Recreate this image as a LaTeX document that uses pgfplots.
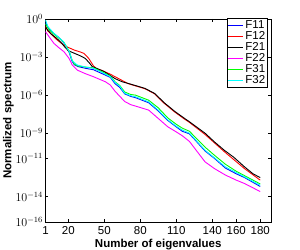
\documentclass[border=0pt]{standalone}
\usepackage{pgfplots}
\pgfplotsset{compat=1.18}
\usepackage{fontspec}
\setmainfont{Liberation Sans}
\usetikzlibrary{calc}
\definecolor{mgreen}{rgb}{0,1,0}
\definecolor{mcyan}{rgb}{0,1,1}
\definecolor{mmag}{rgb}{1,0,1}
\begin{document}
\begin{tikzpicture}
\begin{axis}[
  scale only axis,
  width=225.5pt, height=203pt,
  xmin=1, xmax=189,
  ymin=-16, ymax=0,
  xtick={1,20,50,80,110,140,160,180},
  ytick={0,-3,-6,-9,-11,-14,-16},
  yticklabels={$10^{0}$,$10^{-3}$,$10^{-6}$,$10^{-9}$,$10^{-11}$,$10^{-14}$,$10^{-16}$},
  tick align=inside,
  major tick length=3pt,
  tick style={black, line width=0.6pt},
  axis line style={line width=0.8pt},
  /pgf/number format/assume math mode=true,
  ticklabel style={font=\fontsize{11.5}{13}\selectfont},
  xticklabel style={inner sep=0pt, yshift=-4pt},
  yticklabel style={xshift=1pt},
  xlabel={\textbf{Number of eigenvalues}},
  ylabel={\textbf{Normalized spectrum}},
  label style={font=\fontsize{11.5}{13}\selectfont},
  xlabel style={at={(axis description cs:0.5,0)}, anchor=north, inner sep=0pt, yshift=-16.5pt},
  ylabel style={yshift=-5pt},
  legend style={at={(rel axis cs:0.987,1.004)}, anchor=north east, font=\fontsize{11.5}{13}\selectfont,
    draw=black, line width=0.6pt, inner sep=0.5pt, row sep=-2.6pt, cells={anchor=west}},
  legend cell align=left,
  legend image code/.code={\draw[#1, line width=0.9pt] (0cm,0cm) -- (0.52cm,0cm);},
  every axis plot/.append style={line width=0.9pt},
]
% F11
\addplot[blue] coordinates {(1,-0.3)(4,-0.8)(8,-1.15)(12,-1.45)(16,-1.85)(19,-2.3)(21,-2.7)(23,-3.3)(25,-3.6)(28,-3.75)(35,-3.9)(41,-4.0)(48,-4.3)(55,-4.6)(59,-5.1)(63,-5.4)(67,-5.9)(72,-6.1)(76,-6.2)(87,-6.6)(95,-7.25)(103,-8.0)(110,-8.5)(115,-8.85)(121,-9.05)(134,-10.4)(142,-11.0)(151,-11.75)(160,-12.2)(167,-12.5)(180,-13.2)};
% F12
\addplot[red] coordinates {(1,-0.6)(3,-0.95)(5,-1.13)(10,-1.6)(16,-2.05)(19,-2.2)(25,-2.45)(30,-2.6)(33,-2.71)(37,-3.1)(41,-3.7)(44,-3.95)(48,-4.05)(55,-4.35)(60,-4.6)(65,-4.85)(70,-5.1)(84,-5.5)(92,-5.9)(100,-6.65)(109,-7.35)(117,-7.9)(121,-8.15)(134,-9.1)(150,-10.45)(167,-11.8)(180,-12.7)};
% F21
\addplot[black] coordinates {(1,-0.6)(3,-0.9)(6,-1.2)(10,-1.5)(14,-1.85)(17,-2.2)(20,-2.5)(25,-2.7)(30,-2.9)(34,-3.1)(37,-3.4)(40,-3.75)(44,-3.9)(50,-4.15)(59,-4.7)(65,-4.95)(70,-5.08)(78,-5.3)(84,-5.47)(92,-5.87)(100,-6.6)(109,-7.3)(117,-7.84)(121,-8.1)(134,-9.0)(142,-9.7)(150,-10.34)(158,-10.9)(167,-11.66)(174,-12.2)(180,-12.5)};
% F22
\addplot[mmag] coordinates {(1,-1.0)(4,-1.4)(8,-1.92)(12,-2.25)(16.4,-2.58)(20.6,-3.1)(23.3,-3.63)(27.5,-4.03)(34,-4.3)(41,-4.55)(51,-4.95)(55,-5.2)(59,-5.7)(63,-6.1)(67,-6.5)(72,-6.75)(78,-6.92)(87,-7.18)(95,-7.84)(103,-8.5)(110,-8.9)(115,-9.2)(121,-9.65)(134,-11.26)(142,-11.8)(151,-12.3)(160,-12.7)(167,-12.97)(180,-13.6)};
% F31
\addplot[mgreen] coordinates {(1,-0.4)(4,-0.85)(8,-1.2)(12,-1.5)(16,-1.8)(19,-2.25)(21,-2.6)(23,-3.2)(25,-3.55)(28,-3.7)(35,-3.8)(41,-3.85)(48,-4.15)(55,-4.5)(59,-4.95)(63,-5.25)(67,-5.75)(72,-5.95)(76,-6.0)(87,-6.4)(95,-7.0)(103,-7.8)(110,-8.3)(115,-8.6)(121,-8.85)(134,-10.1)(142,-10.75)(151,-11.45)(160,-12.0)(167,-12.35)(180,-13.0)};
% F32
\addplot[mcyan] coordinates {(1,-0.08)(3,-0.6)(8,-1.13)(12,-1.45)(16,-1.79)(19,-2.3)(21,-2.6)(23.3,-3.3)(27.5,-3.63)(35,-3.8)(41,-3.89)(48,-4.2)(55,-4.55)(59,-5.0)(63,-5.3)(67,-5.85)(72,-6.05)(76,-6.13)(87,-6.53)(95,-7.18)(103,-7.95)(110,-8.45)(115,-8.75)(121,-9.0)(134,-10.34)(142,-10.95)(151,-11.66)(160,-12.1)(167,-12.45)(180,-13.1)};
\legend{F11,F12,F21,F22,F31,F32}
\end{axis}
\pgfresetboundingbox
\path[use as bounding box] ($(current axis.south west)+(-45.5pt,-28pt)$) rectangle ($(current axis.north east)+(29pt,19pt)$);
\end{tikzpicture}
\end{document}
